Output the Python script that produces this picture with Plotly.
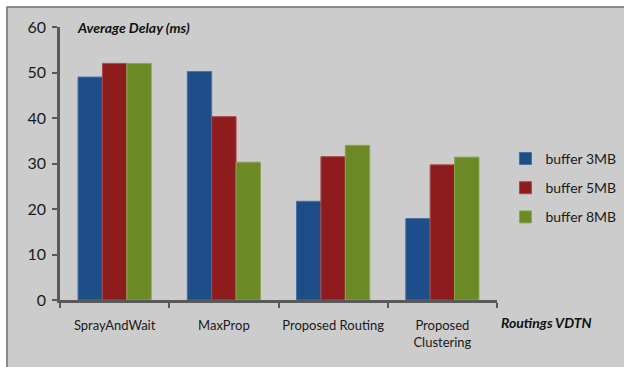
import plotly.graph_objects as go

# Routing schemes compared and their average delay (ms) per buffer size
routings = ["SprayAndWait", "MaxProp", "Proposed Routing", "Proposed<br>Clustering"]
buffer_3mb = [49.0, 50.2, 21.7, 17.9]
buffer_5mb = [52.0, 40.3, 31.5, 29.7]
buffer_8mb = [52.0, 30.3, 34.0, 31.4]
series_names = ["buffer 3MB", "buffer 5MB", "buffer 8MB"]
series_colors = ["#1D4E89", "#8E1C1E", "#6B8A25"]
edge_colors = ["#4A70A8", "#A84A4A", "#8AA650"]
y_ticks = [0, 10, 20, 30, 40, 50, 60]

FONT = "Lato, 'Open Sans', sans-serif"

fig = go.Figure()
for name, vals, col, edge in zip(series_names, [buffer_3mb, buffer_5mb, buffer_8mb],
                                 series_colors, edge_colors):
    fig.add_trace(go.Bar(
        x=routings, y=vals, name=name, legendgroup=name,
        marker=dict(color=col, line=dict(color=edge, width=1)),
    ))

fig.update_layout(
    width=624, height=367,
    margin=dict(l=60, r=127, t=27, b=67, autoexpand=False),
    paper_bgcolor="white",
    plot_bgcolor="rgba(0,0,0,0)",
    barmode="group",
    bargap=0.33, bargroupgap=0,
    font=dict(family=FONT, color="#1a1a1a"),
    showlegend=True,
    legend=dict(
        xref="container", yref="container",
        x=0.81, y=0.488, xanchor="left", yanchor="middle",
        font=dict(size=14, family=FONT, color="#1a1a1a"),
        tracegroupgap=8, bgcolor="rgba(0,0,0,0)",
        itemwidth=30,
    ),
    xaxis=dict(
        type="category",
        tickson="boundaries",
        tickangle=0,
        ticks="outside", ticklen=5, tickwidth=1.5, tickcolor="#595959",
        ticklabelstandoff=12,
        showline=True, linecolor="#595959", linewidth=2.5,
        showgrid=False,
        tickfont=dict(size=13, family=FONT),
    ),
    yaxis=dict(
        range=[0, 60],
        tickvals=y_ticks,
        ticks="outside", ticklen=5, tickwidth=1.5, tickcolor="#595959",
        ticklabelstandoff=3,
        showline=True, linecolor="#595959", linewidth=2.5,
        showgrid=False, zeroline=False,
        tickfont=dict(size=16, family=FONT),
    ),
    shapes=[dict(
        type="rect", xref="paper", yref="paper",
        x0=-0.1213, x1=1.5, y0=-0.5, y1=1.0733,
        fillcolor="#CCCCCC", line=dict(color="#6E6E6E", width=1.5),
        layer="below",
    )],
    annotations=[
        dict(text="<b><i>Average Delay (ms)</i></b>", xref="paper", yref="paper",
             x=0.034, y=1.0, xanchor="left", yanchor="middle", showarrow=False,
             font=dict(size=14, family=FONT, color="#111111")),
        dict(text="<b><i>Routings VDTN</i></b>", xref="paper", yref="paper",
             x=1.005, y=-0.081, xanchor="left", yanchor="middle", showarrow=False,
             font=dict(size=14, family=FONT, color="#111111")),
    ],
)

fig.write_html("out.html")
